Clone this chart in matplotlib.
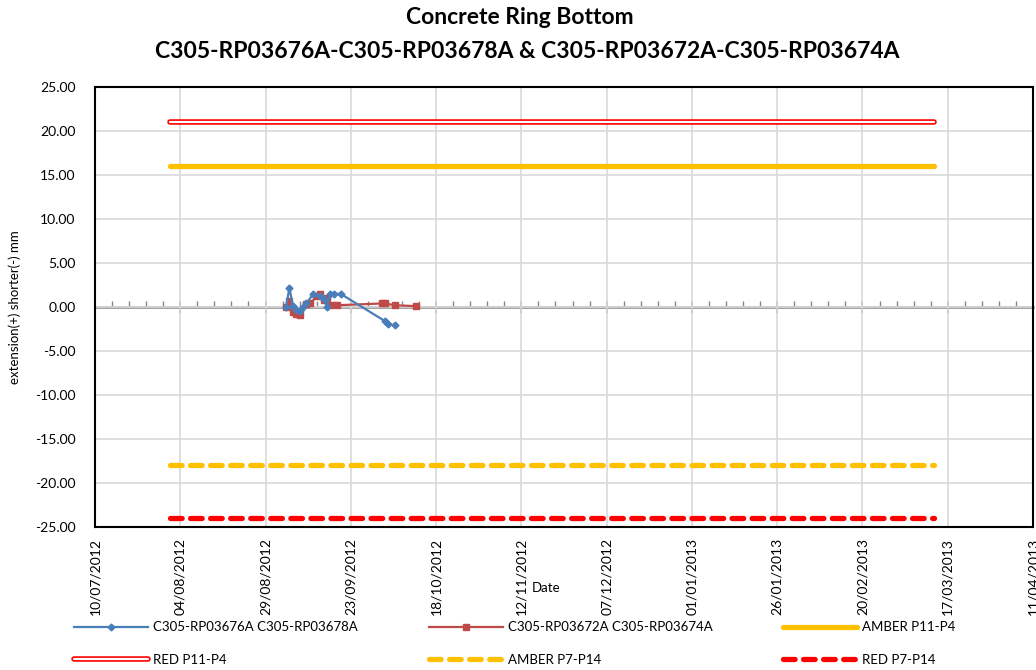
import numpy as np
import pandas as pd
import matplotlib
matplotlib.use('Agg')
import matplotlib.pyplot as plt
import matplotlib.dates as mdates
import matplotlib.patheffects as pe
from matplotlib.ticker import FixedLocator, FuncFormatter, NullFormatter

plt.rcParams['font.family'] = ['Lato', 'DejaVu Sans']

# series C305-RP03676A C305-RP03678A
fechas_a = ['04/09/2012', '05/09/2012', '06/09/2012', '07/09/2012', '08/09/2012',
            '09/09/2012', '10/09/2012', '12/09/2012', '14/09/2012', '15/09/2012',
            '16/09/2012', '17/09/2012', '18/09/2012', '20/09/2012', '03/10/2012',
            '04/10/2012', '06/10/2012']
valores_a = [0.0, 2.2, 0.1, -0.3, -0.5, 0.0, 0.4, 1.5, 1.3, 0.9, 0.0, 1.5, 1.5, 1.5,
             -1.6, -1.9, -2.1]

# series C305-RP03672A C305-RP03674A
fechas_b = ['04/09/2012', '05/09/2012', '06/09/2012', '07/09/2012', '08/09/2012',
            '10/09/2012', '11/09/2012', '13/09/2012', '14/09/2012', '15/09/2012',
            '16/09/2012', '17/09/2012', '19/09/2012', '02/10/2012', '03/10/2012',
            '06/10/2012', '12/10/2012']
valores_b = [0.0, 0.7, -0.6, -0.8, -0.9, 0.3, 0.4, 1.2, 1.5, 0.8, 1.0, 0.2, 0.2, 0.4,
             0.4, 0.2, 0.1]

# trigger levels
fechas_lim = ['01/08/2012', '13/03/2013']
amber_p11 = [16, 16]
red_p11 = [21, 21]
amber_p7 = [-18, -18]
red_p7 = [-24, -24]

x_ini = '10/07/2012'
x_fin = '11/04/2013'

def num(f):
    return mdates.date2num(pd.to_datetime(f, dayfirst=True))

xa = num(fechas_a)
xb = num(fechas_b)
xl = num(fechas_lim)
x0 = num(x_ini)
x1 = num(x_fin)

fig = plt.figure(figsize=(10.36, 6.70), dpi=100)
ax = fig.add_axes([95/1036, 1-527/670, (1033-95)/1036, (527-87)/670])

ax.plot(xa, valores_a, '-D', color='#4A7EBB', lw=1.6, ms=3.5,
        label='C305-RP03676A C305-RP03678A', zorder=5)
ax.plot(xb, valores_b, '-s', color='#BE4B48', lw=1.6, ms=5,
        label='C305-RP03672A C305-RP03674A', zorder=4)
ax.plot(xl, amber_p11, color='#FFC000', lw=3.8, solid_capstyle='round',
        label='AMBER P11-P4', zorder=3)
ax.plot(xl, red_p11, color='white', lw=1.6, solid_capstyle='round',
        path_effects=[pe.Stroke(linewidth=4, foreground='#FF0000'), pe.Normal()],
        label='RED P11-P4', zorder=3)
ax.plot(xl, amber_p7, color='#FFC000', lw=3.8, ls=(0, (2.2, 1.6)),
        dash_capstyle='round', label='AMBER P7-P14', zorder=3)
ax.plot(xl, red_p7, color='#FF0000', lw=3.8, ls=(0, (2.2, 1.6)),
        dash_capstyle='round', label='RED P7-P14', zorder=3)

ax.set_xlim(x0, x1)
ax.set_ylim(-25, 25)
mayores = np.arange(x0, x1 + 1, 25)
menores = np.arange(x0, x1 + 1, 5)
ax.xaxis.set_major_locator(FixedLocator(mayores))
ax.xaxis.set_major_formatter(mdates.DateFormatter('%d/%m/%Y'))
ax.set_yticks(np.arange(-25, 26, 5))
ax.yaxis.set_major_formatter(FuncFormatter(lambda v, p: '%.2f' % v))
ax.tick_params(axis='x', length=0, pad=8, labelsize=10, labelrotation=90)
ax.tick_params(axis='y', length=0, pad=14, labelsize=10)
ax.grid(True, color='#D9D9D9', lw=1.2)
ax.set_axisbelow(True)
for s in ax.spines.values():
    s.set_color('black')
    s.set_linewidth(1.5)

# horizontal axis crossing at zero
sec = ax.secondary_xaxis(0.5)
sec.xaxis.set_major_locator(FixedLocator(mayores))
sec.xaxis.set_minor_locator(FixedLocator(menores))
sec.xaxis.set_major_formatter(NullFormatter())
sec.xaxis.set_minor_formatter(NullFormatter())
sec.tick_params(which='major', direction='inout', length=9, width=1.2,
                color='#868686', labeltop=False, labelbottom=False)
sec.tick_params(which='minor', direction='out', length=4, width=1,
                color='#868686', labeltop=False, labelbottom=False)
for s in sec.spines.values():
    s.set_color('#868686')
    s.set_linewidth(1.8)

ax.set_ylabel('extension(+) shorter(-) mm', fontsize=9.5, labelpad=10)
fig.text(546/1036, 1-588/670, 'Date', ha='center', va='center', fontsize=9.5)

fig.text(520/1036, 1-18/670, 'Concrete Ring Bottom', ha='center', va='center',
         fontsize=16.5, fontweight='bold')
fig.text(527/1036, 1-51/670,
         'C305-RP03676A-C305-RP03678A & C305-RP03672A-C305-RP03674A',
         ha='center', va='center', fontsize=16.5, fontweight='bold')

h, l = ax.get_legend_handles_labels()
orden = [0, 3, 1, 4, 2, 5]
fig.legend([h[i] for i in orden], [l[i] for i in orden], ncol=3,
           loc='lower left', bbox_to_anchor=(65/1036, -5/670, 900/1036, 60/670),
           mode='expand', frameon=False, fontsize=9.5, handlelength=5.6,
           handletextpad=0.4, labelspacing=1.55, borderpad=0.2)

fig.savefig('out.png', dpi=100)
